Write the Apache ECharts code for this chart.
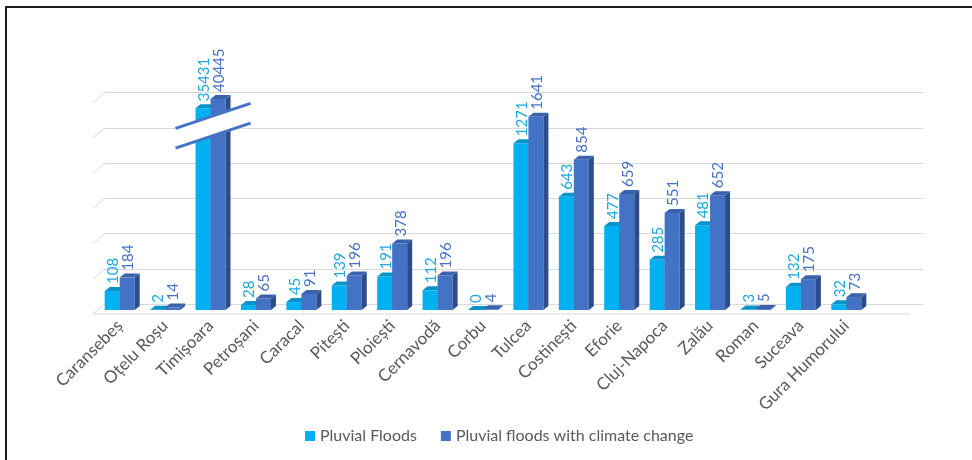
<!DOCTYPE html>
<html>
<head>
<meta charset="utf-8">
<script src="https://cdn.jsdelivr.net/npm/echarts@6/dist/echarts.min.js"></script>
<style>
html, body { margin: 0; padding: 0; background: #fff; }
#chart { position: absolute; left: 0; top: 0; width: 972px; height: 460px; }
#frame { position: absolute; left: 5px; top: 6px; width: 967px; height: 454px; border-left: 2px solid #1c1c1c; border-top: 2px solid #1c1c1c; pointer-events: none; }
</style>
</head>
<body>
<div id="chart"></div>
<div id="frame"></div>
<script>
const cities = ['Caransebeș', 'Oțelu Roșu', 'Timișoara', 'Petroșani', 'Caracal', 'Pitești', 'Ploiești', 'Cernavodă', 'Corbu', 'Tulcea', 'Costinești', 'Eforie', 'Cluj-Napoca', 'Zalău', 'Roman', 'Suceava', 'Gura Humorului']
const pluvialFloods = [108, 2, 35431, 28, 45, 139, 191, 112, 0, 1271, 643, 477, 285, 481, 3, 132, 32]
const pluvialFloodsCC = [184, 14, 40445, 65, 91, 196, 378, 196, 4, 1641, 854, 659, 551, 652, 5, 175, 73]
const seriesNames = ['Pluvial Floods', 'Pluvial floods with climate change']
// back wall grid lines
const gridTicks = [0, 200, 400, 600, 800, 1000, 1200]
// the source squeezes the big bars, so the value axis gets breaks (no gap)
const axisBreaks = [
  { start: 900, end: 1223, gap: 0 },
  { start: 1300, end: 1520, gap: 0 },
  { start: 1650, end: 35392, gap: 0 },
  { start: 35440, end: 40401, gap: 0 }
]

const FONT = 'Lato, "Open Sans", sans-serif'
const lightColors = { front: '#00b0f0', side: '#0088bd', top: '#0a93c9', label: '#1aa9e0' }
const darkColors = { front: '#4472c4', side: '#2c4c8a', top: '#3a62ad', label: '#4472c4' }

function bar3d(side, colors) {
  return function (params, api) {
    const idx = api.value(0)
    const val = api.value(1)
    const top = api.coord([idx, val])
    const base = api.coord([idx, 0])
    const w = 15, dx = 5, dy = -4
    const x0 = side === 0 ? top[0] - w : top[0]
    const x1 = x0 + w
    const yT = top[1], yB = base[1]
    return {
      type: 'group',
      children: [
        { type: 'polygon', shape: { points: [[x0, yT], [x1, yT], [x1, yB], [x0, yB]] }, style: { fill: colors.front } },
        { type: 'polygon', shape: { points: [[x1, yT], [x1 + dx, yT + dy], [x1 + dx, yB + dy], [x1, yB]] }, style: { fill: colors.side } },
        { type: 'polygon', shape: { points: [[x0, yT], [x1, yT], [x1 + dx, yT + dy], [x0 + dx, yT + dy]] }, style: { fill: colors.top } },
        {
          type: 'text', x: x0 + w / 2 + 1, y: yT + dy - 3, rotation: Math.PI / 2,
          style: { text: String(val), fill: colors.label, fontSize: 15, fontFamily: FONT, align: 'left', verticalAlign: 'middle' }
        }
      ]
    }
  }
}

const chart = echarts.init(document.getElementById('chart'))
const option = {
  backgroundColor: '#fff',
  animation: false,
  legend: {
    data: seriesNames,
    bottom: 11,
    left: 300,
    icon: 'rect',
    itemWidth: 10,
    itemHeight: 10,
    itemGap: 24,
    textStyle: { color: '#595959', fontSize: 16, fontFamily: FONT }
  },
  grid: [
    { left: 97, width: 772, top: 98.8, bottom: 150 },
    { left: 105, right: 49, top: 92.5, bottom: 156 }
  ],
  xAxis: [
    {
      type: 'category', gridIndex: 0, data: cities,
      axisLine: { show: false }, axisTick: { show: false },
      axisLabel: { interval: 0, rotate: 45, margin: 13, color: '#595959', fontSize: 17, fontFamily: FONT }
    },
    { type: 'value', gridIndex: 1, min: 0, max: 1, show: false }
  ],
  yAxis: [
    {
      type: 'value', gridIndex: 0, min: 0, max: 40446,
      breaks: axisBreaks,
      breakArea: { show: false },
      axisLabel: { show: false }, axisLine: { show: false }, axisTick: { show: false }, splitLine: { show: false }
    },
    {
      type: 'value', gridIndex: 1, min: 0, max: 1200, interval: 200,
      axisLabel: { show: false }, axisLine: { show: false }, axisTick: { show: false },
      splitLine: { show: true, lineStyle: { color: '#d9d9d9', width: 1 } }
    }
  ],
  series: [
    {
      name: seriesNames[0], type: 'custom', xAxisIndex: 0, yAxisIndex: 0, clip: false,
      itemStyle: { color: lightColors.front },
      encode: { x: 0, y: 1 },
      data: pluvialFloods.map((v, i) => [i, v]),
      renderItem: bar3d(0, lightColors)
    },
    {
      name: seriesNames[1], type: 'custom', xAxisIndex: 0, yAxisIndex: 0, clip: false,
      itemStyle: { color: darkColors.front },
      encode: { x: 0, y: 1 },
      data: pluvialFloodsCC.map((v, i) => [i, v]),
      renderItem: bar3d(1, darkColors)
    }
  ]
}
chart.setOption(option)

// left wall tails, floor edge and the break mark on Timișoara
const graphics = []
gridTicks.forEach(v => {
  const p = chart.convertToPixel({ gridIndex: 1 }, [0, v])
  graphics.push({ type: 'line', silent: true, z: 0, shape: { x1: p[0], y1: p[1], x2: p[0] - 12, y2: p[1] + 10 }, style: { stroke: '#d9d9d9', lineWidth: 1 } })
})
const floorL = chart.convertToPixel({ gridIndex: 1 }, [0, 0])
const floorR = chart.convertToPixel({ gridIndex: 1 }, [1, 0])
graphics.push({ type: 'line', silent: true, z: 0, shape: { x1: floorL[0] - 12, y1: floorL[1] + 10, x2: floorR[0] - 13, y2: floorR[1] + 10 }, style: { stroke: '#d9d9d9', lineWidth: 1 } })

const timX = chart.convertToPixel({ xAxisIndex: 0 }, 2) + 2.5
const cut1 = chart.convertToPixel({ gridIndex: 1 }, [0, 1067])[1]
const cut2 = chart.convertToPixel({ gridIndex: 1 }, [0, 955])[1]
const hw = 37.5, sl = 12.5
graphics.push({ type: 'polygon', silent: true, z: 100, shape: { points: [[timX - hw, cut1 + sl], [timX + hw, cut1 - sl], [timX + hw, cut2 - sl], [timX - hw, cut2 + sl]] }, style: { fill: '#fff' } })
graphics.push({ type: 'line', silent: true, z: 101, shape: { x1: timX - hw, y1: cut1 + sl, x2: timX + hw, y2: cut1 - sl }, style: { stroke: '#4472c4', lineWidth: 3 } })
graphics.push({ type: 'line', silent: true, z: 101, shape: { x1: timX - hw, y1: cut2 + sl, x2: timX + hw, y2: cut2 - sl }, style: { stroke: '#4472c4', lineWidth: 3 } })
chart.setOption({ graphic: graphics })
</script>
</body>
</html>
